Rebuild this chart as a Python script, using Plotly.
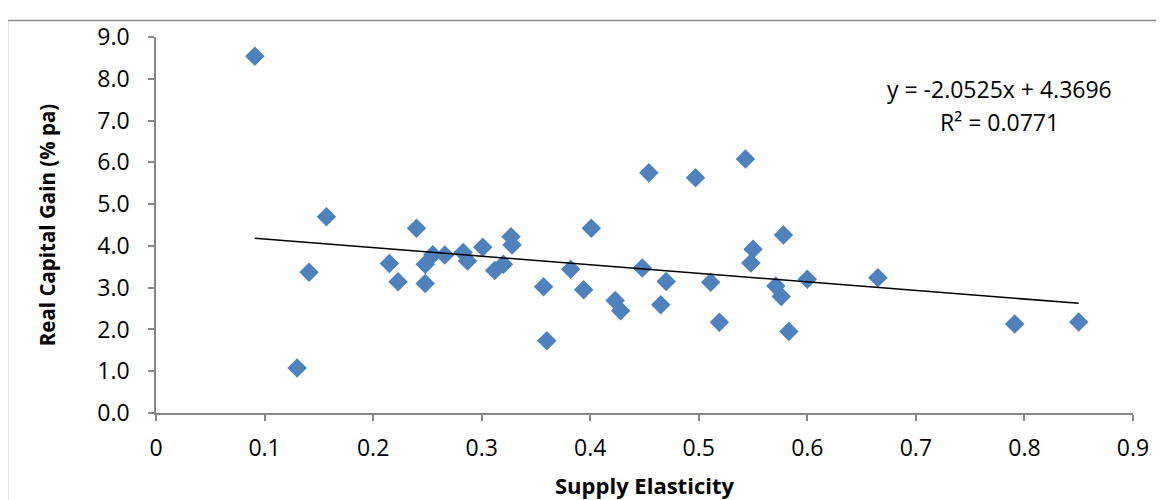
import plotly.graph_objects as go

# Supply elasticity (x) and real capital gain % pa (y)
supply_elasticity = [
    0.091, 0.130, 0.141, 0.157, 0.215, 0.223, 0.240, 0.248, 0.248, 0.255,
    0.266, 0.283, 0.287, 0.301, 0.312, 0.320, 0.327, 0.328, 0.357, 0.360,
    0.382, 0.394, 0.401, 0.423, 0.428, 0.448, 0.454, 0.465, 0.470, 0.497,
    0.511, 0.519, 0.543, 0.550, 0.548, 0.571, 0.576, 0.578, 0.583, 0.600,
    0.665, 0.791, 0.850,
]
real_capital_gain = [
    8.54, 1.08, 3.37, 4.70, 3.58, 3.14, 4.42, 3.10, 3.56, 3.79,
    3.78, 3.84, 3.64, 3.97, 3.41, 3.56, 4.22, 4.02, 3.02, 1.73,
    3.44, 2.95, 4.42, 2.69, 2.45, 3.47, 5.75, 2.59, 3.15, 5.63,
    3.13, 2.17, 6.08, 3.92, 3.59, 3.04, 2.79, 4.26, 1.95, 3.20,
    3.24, 2.13, 2.18,
]
trend_slope = -2.0525
trend_intercept = 4.3696
r_squared = 0.0771

x_ticks = [0, 0.1, 0.2, 0.3, 0.4, 0.5, 0.6, 0.7, 0.8, 0.9]
x_tick_labels = ["0", "0.1", "0.2", "0.3", "0.4", "0.5", "0.6", "0.7", "0.8", "0.9"]
y_ticks = [0, 1, 2, 3, 4, 5, 6, 7, 8, 9]
y_tick_labels = ["0.0", "1.0", "2.0", "3.0", "4.0", "5.0", "6.0", "7.0", "8.0", "9.0"]

x_min, x_max = min(supply_elasticity), max(supply_elasticity)
trend_x = [x_min, x_max]
trend_y = [trend_slope * v + trend_intercept for v in trend_x]

FONT = "Open Sans"
AXIS_COLOR = "#868686"

fig = go.Figure()
fig.add_trace(go.Scatter(
    x=supply_elasticity, y=real_capital_gain, mode="markers",
    marker=dict(symbol="diamond", size=15, color="#4F81BD",
                line=dict(width=0)),
    showlegend=False, hoverinfo="x+y",
))
fig.add_trace(go.Scatter(
    x=trend_x, y=trend_y, mode="lines",
    line=dict(color="black", width=1.5),
    showlegend=False, hoverinfo="skip",
))

fig.add_annotation(
    x=0.863, y=0.863, xref="paper", yref="paper",
    text=f"y = {trend_slope:.4f}x + {trend_intercept:.4f}",
    showarrow=False, xanchor="center", yanchor="middle",
    font=dict(family=FONT, size=23, color="black"),
)
fig.add_annotation(
    x=0.863, y=0.775, xref="paper", yref="paper",
    text=f"R² = {r_squared:.4f}",
    showarrow=False, xanchor="center", yanchor="middle",
    font=dict(family=FONT, size=23, color="black"),
)

# Chart-area border
fig.add_shape(type="rect", xref="paper", yref="paper",
              x0=-0.152, x1=1.05, y0=-0.30, y1=1.044,
              line=dict(color="#8c8c8c", width=1.5), fillcolor="rgba(0,0,0,0)",
              layer="below")

fig.update_layout(
    width=1164, height=500,
    margin=dict(l=148, r=39, t=17, b=95),
    paper_bgcolor="white", plot_bgcolor="white",
    font=dict(family=FONT, size=23, color="black"),
    xaxis=dict(
        range=[0, 0.9], tickvals=x_ticks, ticktext=x_tick_labels,
        showgrid=False, zeroline=False, showline=True, linecolor=AXIS_COLOR,
        linewidth=1.5, ticks="outside", tickcolor=AXIS_COLOR, ticklen=6,
        tickwidth=1.5, tickfont=dict(family=FONT, size=23),
        ticklabelstandoff=8,
        title=dict(text="<b>Supply Elasticity</b>", standoff=16,
                   font=dict(family=FONT, size=22)),
    ),
    yaxis=dict(
        range=[0, 9], tickvals=y_ticks, ticktext=y_tick_labels,
        showgrid=False, zeroline=False, showline=True, linecolor=AXIS_COLOR,
        linewidth=1.5, ticks="outside", tickcolor=AXIS_COLOR, ticklen=6,
        tickwidth=1.5, tickfont=dict(family=FONT, size=23),
        ticklabelstandoff=14,
        title=dict(text="<b>Real Capital Gain (% pa)</b>", standoff=36,
                   font=dict(family=FONT, size=20.5)),
    ),
)

fig.write_html("out.html")
